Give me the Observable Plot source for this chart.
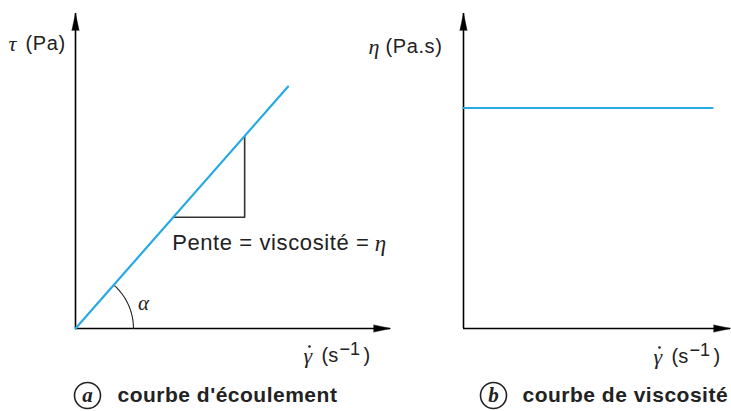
<!DOCTYPE html>
<html><head><meta charset="utf-8">
<script src="https://cdn.jsdelivr.net/npm/d3@7"></script>
<script src="https://cdn.jsdelivr.net/npm/@observablehq/plot@0.6"></script>
<style>
body{margin:0;background:#fff;}
#wrap{position:relative;width:731px;height:411px;overflow:hidden;}
#wrap svg{position:absolute;left:0;top:0;overflow:visible;background:none;}
</style></head><body><div id="wrap"></div>
<script>
// ---- data (arbitrary schematic units, axes run 0..10) ----
const axisMax = 10;
// (a) flow curve: shear stress vs shear rate (Newtonian, straight line through origin)
const flowGamma = [0, 6.75];
const flowTau = [0, 7.68];
// slope triangle on the flow curve
const triGamma = [3.1, 5.37, 5.37];
const triTau = [3.53, 3.53, 6.1];
// (b) viscosity curve: constant viscosity
const viscGamma = [0, 9.33];
const viscEta = [7.0, 7.0];
// texts
const labels = {
  tau: "τ", tauUnit: "(Pa)", eta: "η", etaUnit: "(Pa.s)",
  gamma: "γ", unitOpen: "(s", unitExp: "−1", unitClose: ")",
  slope: "Pente = viscosité =", alpha: "α",
  capA: "a", capAText: "courbe d'écoulement", capB: "b", capBText: "courbe de viscosité"
};

const BLUE = "#27aae1";
const INK = "#222";
const SANS = "'Liberation Sans', Arial, sans-serif";
const SERIF = "'Liberation Serif', 'DejaVu Serif', serif";
const W = 731, H = 411;

function axesMarks() {
  return [
    Plot.ruleY([0], {stroke: "black", strokeWidth: 1.6}),
    Plot.ruleX([0], {stroke: "black", strokeWidth: 1.6}),
    Plot.vector([axisMax], {x: d => d, y: 0, rotate: 90, length: 17, r: 3.6, shape: "spike", anchor: "end", fill: "black", stroke: "black", strokeWidth: 0.5}),
    Plot.vector([axisMax], {x: 0, y: d => d, rotate: 0, length: 17, r: 3.6, shape: "spike", anchor: "end", fill: "black", stroke: "black", strokeWidth: 0.5})
  ];
}
function txt(s, o) {
  return Plot.text([s], Object.assign({fill: INK, fontSize: 20, fontFamily: SANS, textAnchor: "start", lineAnchor: "middle"}, o));
}
const greek = {fontFamily: SERIF, fontStyle: "italic", fontSize: 22};
// shear-rate axis label: γ̇ (s⁻¹), positioned from the frame's bottom-right corner
function gammaLabel(dx, dy) {
  const fa = {frameAnchor: "bottom-right"};
  return [
    txt(labels.gamma, {...fa, ...greek, dx, dy}),
    Plot.dot([0], {...fa, dx: dx + 6, dy: dy - 9, r: 1.3, fill: INK, stroke: "none"}),
    txt(labels.unitOpen, {...fa, dx: dx + 18, dy, fontSize: 20}),
    txt(labels.unitExp, {...fa, dx: dx + 36, dy: dy - 6, fontSize: 18}),
    txt(labels.unitClose, {...fa, dx: dx + 60, dy, fontSize: 20})
  ];
}
function caption(letter, text, o) {
  return [
    Plot.dot([0], Object.assign({r: 13, stroke: INK, strokeWidth: 1.6, fill: "none"}, o.circle)),
    txt(letter, Object.assign({fontFamily: SERIF, fontStyle: "italic", fontWeight: "bold", fontSize: 21, textAnchor: "middle"}, o.circle)),
    txt(text, Object.assign({fontWeight: "bold", fontSize: 21, className: "cap"}, o.text))
  ];
}

// arc for angle alpha (radius in data units), following the slope of the flow curve
const alphaAngle = Math.atan2(flowTau[1] - flowTau[0], flowGamma[1] - flowGamma[0]);
const arcR = 1.84;
const arcPts = d3.range(0, 41).map(i => {
  const a = alphaAngle * i / 40;
  return {x: arcR * Math.cos(a), y: arcR * Math.sin(a)};
});

const left = Plot.plot({
  width: W, height: H,
  marginLeft: 75, marginRight: W - 390, marginTop: 13, marginBottom: H - 328,
  x: {domain: [0, axisMax], axis: null},
  y: {domain: [0, axisMax], axis: null},
  marks: [
    ...axesMarks(),
    Plot.line(arcPts, {x: "x", y: "y", stroke: INK, strokeWidth: 1.1}),
    Plot.line(triGamma.map((g, i) => ({g, t: triTau[i]})), {x: "g", y: "t", stroke: "#333", strokeWidth: 1.6}),
    Plot.line(flowGamma.map((g, i) => ({g, t: flowTau[i]})), {x: "g", y: "t", stroke: BLUE, strokeWidth: 2.2}),
    txt(labels.slope, {x: [triGamma[0]], y: [triTau[0]], dx: -1, dy: 26, fontSize: 22, className: "slope"}),
    txt(labels.eta, {x: [triGamma[0]], y: [triTau[0]], dx: 213, dy: 26, textAnchor: "end", ...greek, fontSize: 23}),
    txt(labels.alpha, {x: [0], y: [0], dx: 68, dy: -25, ...greek, fontSize: 21, textAnchor: "middle"}),
    txt(labels.tau, {frameAnchor: "top-left", dx: -67, dy: 30, ...greek}),
    txt(labels.tauUnit, {frameAnchor: "top-left", dx: -50, dy: 30, className: "unit"}),
    ...gammaLabel(-87, 27),
    ...caption(labels.capA, labels.capAText, {
      circle: {frameAnchor: "bottom-left", dx: 12, dy: 67},
      text: {frameAnchor: "bottom-left", dx: 42, dy: 67}
    })
  ]
});

const right = Plot.plot({
  width: W, height: H,
  marginLeft: 463, marginRight: 1, marginTop: 13, marginBottom: H - 328,
  x: {domain: [0, axisMax], axis: null},
  y: {domain: [0, axisMax], axis: null},
  marks: [
    ...axesMarks(),
    Plot.line(viscGamma.map((g, i) => ({g, e: viscEta[i]})), {x: "g", y: "e", stroke: BLUE, strokeWidth: 2.2}),
    txt(labels.eta, {frameAnchor: "top-left", dx: -95, dy: 33, ...greek}),
    txt(labels.etaUnit, {frameAnchor: "top-left", dx: -78, dy: 33, className: "unit"}),
    ...gammaLabel(-77, 28),
    ...caption(labels.capB, labels.capBText, {
      circle: {frameAnchor: "bottom-left", dx: 30, dy: 67},
      text: {frameAnchor: "bottom-left", dx: 59, dy: 67}
    })
  ]
});

const wrap = document.getElementById("wrap");
wrap.appendChild(left);
wrap.appendChild(right);
// slightly wider letter spacing, as in the reference typesetting
d3.selectAll("#wrap g.slope text").style("letter-spacing", "0.6px");
d3.selectAll("#wrap g.cap text").style("letter-spacing", "0.5px");
d3.selectAll("#wrap g.unit text").style("letter-spacing", "0.6px");
</script>
</body></html>
